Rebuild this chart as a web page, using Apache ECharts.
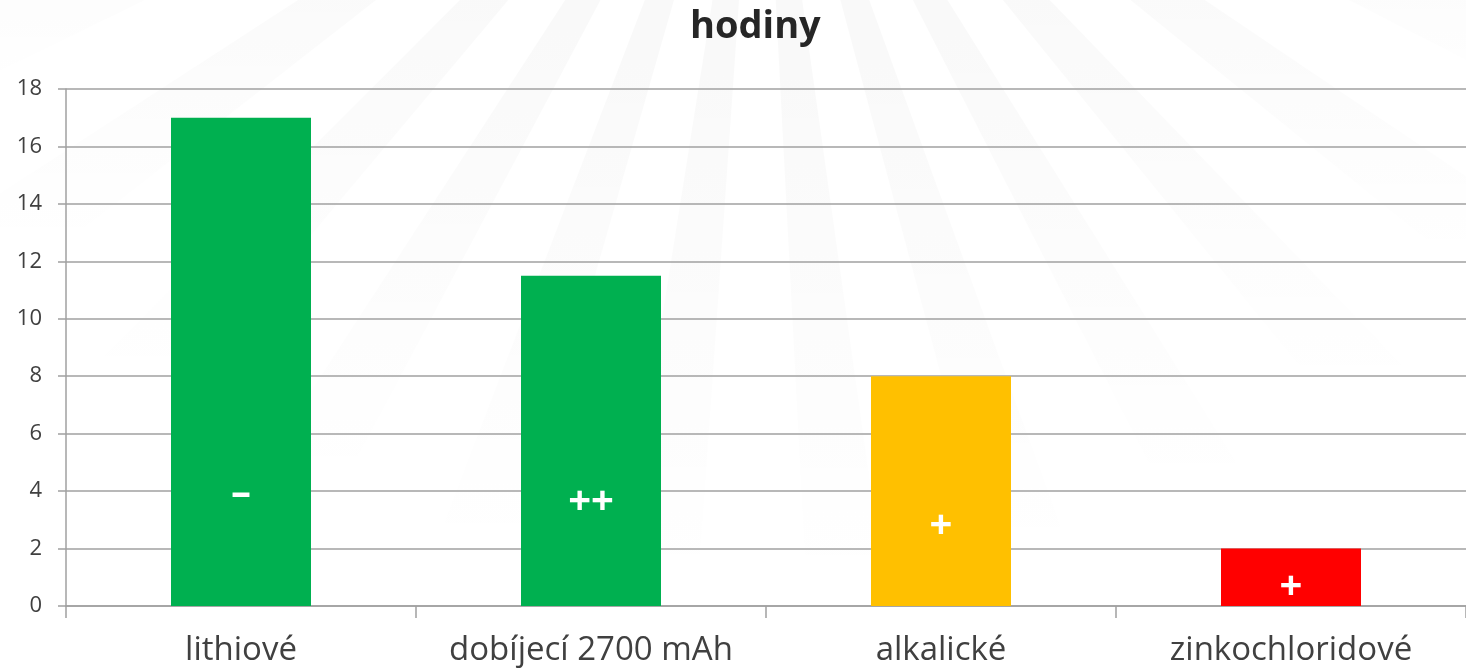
<!DOCTYPE html>
<html>
<head>
<meta charset="utf-8">
<script src="https://cdn.jsdelivr.net/npm/echarts@6/dist/echarts.min.js"></script>
<style>
html,body{margin:0;padding:0;background:#fff;}
#chart{width:1466px;height:672px;}
</style>
</head>
<body>
<div id="chart"></div>
<script>
const titleText = 'hodiny';
const categories = ['lithiové', 'dobíjecí 2700 mAh', 'alkalické', 'zinkochloridové'];
const hours = [17, 11.5, 8, 2];
const barColors = ['#00b050', '#00b050', '#ffc000', '#ff0000'];
const markTexts = ['–', '++', '+', '+'];
const markLevels = [3.9, 3.6, 2.75, 0.65];
const yTicks = [0, 2, 4, 6, 8, 10, 12, 14, 16, 18];

const FONT = '"Open Sans", "Liberation Sans", sans-serif';
const chart = echarts.init(document.getElementById('chart'), null, {renderer: 'canvas'});

// faint background rays
const rays = [];
const cx = 760, cy = -300, R = 1500;
for (let a = 22; a <= 160; a += 12) {
  const a1 = a * Math.PI / 180, a2 = (a + 5) * Math.PI / 180;
  rays.push({
    type: 'polygon', z: -10, silent: true,
    shape: {points: [[cx, cy], [cx + R * Math.cos(a1), cy + R * Math.sin(a1)], [cx + R * Math.cos(a2), cy + R * Math.sin(a2)]]},
    style: {fill: new echarts.graphic.LinearGradient(0, 0, 0, 1, [
      {offset: 0, color: 'rgba(0,0,0,0.028)'},
      {offset: 0.25, color: 'rgba(0,0,0,0.022)'},
      {offset: 0.6, color: 'rgba(0,0,0,0.0)'}
    ], false)}
  });
}

chart.setOption({
  backgroundColor: '#ffffff',
  animation: false,
  graphic: rays,
  title: {
    text: titleText, left: 690, top: 8, padding: [0, 0, 0, 0],
    textStyle: {fontFamily: FONT, fontWeight: 'bold', fontSize: 38, color: '#262626'}
  },
  grid: {left: 66, right: 0, top: 89, bottom: 66, containLabel: false},
  xAxis: {
    type: 'category', data: categories, boundaryGap: true,
    axisLine: {show: true, lineStyle: {color: '#a0a0a0', width: 1.5}},
    axisTick: {show: true, alignWithLabel: false, interval: 0, length: 12, lineStyle: {color: '#a0a0a0', width: 1.5}},
    axisLabel: {interval: 0, margin: 28, fontFamily: FONT, fontSize: 33, color: '#404040'},
    splitLine: {show: false}
  },
  yAxis: {
    type: 'value', min: 0, max: 18, interval: 2,
    axisLine: {show: true, lineStyle: {color: '#a0a0a0', width: 1.5}},
    axisTick: {show: true, length: 8, lineStyle: {color: '#a0a0a0', width: 1.5}},
    axisLabel: {margin: 24, fontFamily: FONT, fontSize: 22, color: '#404040',
      formatter: v => yTicks.includes(v) ? String(v) : ''},
    splitLine: {show: true, lineStyle: {color: '#a0a0a0', width: 1.5}}
  },
  series: [
    {
      type: 'bar', barWidth: '40%', z: 2,
      data: hours.map((v, i) => ({value: v, itemStyle: {color: barColors[i]}})),
      label: {show: false}
    },
    {
      type: 'scatter', symbolSize: 0, z: 5, silent: true,
      itemStyle: {opacity: 1},
      data: markLevels.map((v, i) => [categories[i], v]),
      label: {
        show: true, position: 'inside', opacity: 1,
        formatter: p => markTexts[p.dataIndex],
        fontFamily: FONT, fontWeight: 'bold', fontSize: 40, color: '#ffffff',
        textBorderWidth: 0, textBorderColor: 'transparent'
      }
    }
  ]
});
</script>
</body>
</html>
